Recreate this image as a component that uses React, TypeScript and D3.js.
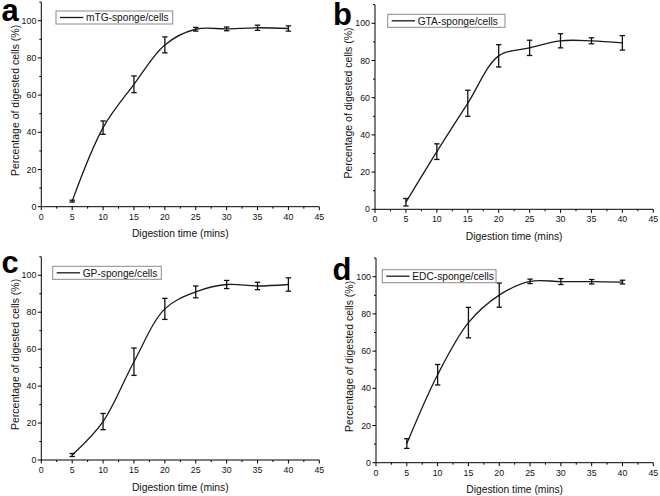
import React from "react";
import * as d3 from "d3";

const times = [5, 10, 15, 20, 25, 30, 35, 40];
const mtgMean = [3, 42.5, 65.8, 87, 95.4, 95.6, 96.2, 95.8];
const mtgErr = [0.5, 3.6, 4.5, 4.3, 1, 1, 1.4, 1.4];
const gtaMean = [3.8, 31, 57, 82.5, 86.8, 90.6, 90.6, 89.5];
const gtaErr = [2, 4.2, 7, 6, 4.1, 3.8, 1.6, 3.9];
const gpMean = [2.7, 20.8, 53.2, 81.8, 91, 95, 94.2, 95];
const gpErr = [0.8, 4.4, 7.4, 5.7, 3.2, 2.2, 2, 3.6];
const edcMean = [10.3, 47.3, 75.3, 90.1, 97.5, 97.4, 97.3, 97.1];
const edcErr = [2.6, 5.5, 8.2, 6.5, 1.2, 1.6, 1.2, 1];

const xTicks = [0, 5, 10, 15, 20, 25, 30, 35, 40, 45];
const yTicks = [0, 20, 40, 60, 80, 100];
const panelLetters = ["a", "b", "c", "d"];
const seriesNames = ["mTG-sponge/cells", "GTA-sponge/cells", "GP-sponge/cells", "EDC-sponge/cells"];
const xTitle = "Digestion time (mins)";
const yTitle = "Percentage of digested cells (%)";

const FONT = "'Liberation Sans', Arial, Helvetica, sans-serif";

type Layout = {
  ox: number; oy: number; xr: number; yt: number;
  lx: number; ly: number; legX: number; legY: number; legW: number;
};

const layouts: Layout[] = [
  { ox: 41.3, oy: 206.7, xr: 319.3, yt: 2.1, lx: 1.5, ly: 20.5, legX: 56, legY: 11, legW: 116.7 },
  { ox: 375, oy: 209.3, xr: 653.3, yt: 4.7, lx: 333, ly: 25, legX: 387.7, legY: 14.3, legW: 117.3 },
  { ox: 41.3, oy: 460, xr: 319.3, yt: 256.8, lx: 1.5, ly: 273, legX: 52.7, legY: 266.3, legW: 108.6 },
  { ox: 376, oy: 462.7, xr: 653.3, yt: 258.1, lx: 332.5, ly: 280, legX: 382.3, legY: 269.7, legW: 113.7 },
];

const means = [mtgMean, gtaMean, gpMean, edcMean];
const errs = [mtgErr, gtaErr, gpErr, edcErr];

function Panel({ idx }: { idx: number }) {
  const L = layouts[idx];
  const x = d3.scaleLinear().domain([0, 45]).range([L.ox, L.xr]);
  const y = d3.scaleLinear().domain([0, 110]).range([L.oy, L.yt]);
  const mean = means[idx];
  const err = errs[idx];
  const pts: [number, number][] = times.map((t, i) => [x(t), y(mean[i])]);
  const line = d3.line().curve(d3.curveCatmullRom.alpha(0.5))(pts) || "";
  const xMinor = d3.range(2.5, 45, 5);
  const yMinor = d3.range(10, 111, 20);
  const capW = 2.7;
  const xMid = (L.ox + L.xr) / 2;
  const yMid = (y(0) + y(110)) / 2 - 4;
  return (
    <g>
      <line x1={L.ox} x2={L.ox} y1={L.oy} y2={L.yt} stroke="#000" strokeWidth={1} />
      <line x1={L.ox} x2={L.xr} y1={L.oy} y2={L.oy} stroke="#000" strokeWidth={1} />
      {xTicks.map((t) => (
        <g key={"xt" + t}>
          <line x1={x(t)} x2={x(t)} y1={L.oy} y2={L.oy + 3.5} stroke="#000" />
          <text x={x(t)} y={L.oy + 12.8} fontSize={8.8} textAnchor="middle" fontFamily={FONT} fill="#111">{t}</text>
        </g>
      ))}
      {xMinor.map((t) => (
        <line key={"xm" + t} x1={x(t)} x2={x(t)} y1={L.oy} y2={L.oy + 2} stroke="#000" />
      ))}
      {yTicks.map((t) => (
        <g key={"yt" + t}>
          <line x1={L.ox} x2={L.ox - 3.5} y1={y(t)} y2={y(t)} stroke="#000" />
          <text x={L.ox - 5} y={y(t) + 3} fontSize={8.8} textAnchor="end" fontFamily={FONT} fill="#111">{t}</text>
        </g>
      ))}
      {yMinor.map((t) => (
        <line key={"ym" + t} x1={L.ox} x2={L.ox - 2} y1={y(t)} y2={y(t)} stroke="#000" />
      ))}
      <text x={xMid} y={L.oy + 30.5} fontSize={10.3} textAnchor="middle" fontFamily={FONT} fill="#111">{xTitle}</text>
      <text transform={`translate(${L.ox - 22.8},${yMid}) rotate(-90)`} fontSize={10.5} textAnchor="middle" fontFamily={FONT} fill="#111">{yTitle}</text>
      <path d={line} fill="none" stroke="#1a1a1a" strokeWidth={1.3} />
      {times.map((t, i) => {
        const cx = x(t);
        const top = y(mean[i] + err[i]);
        const bot = y(mean[i] - err[i]);
        return (
          <g key={"e" + t} stroke="#111" strokeWidth={1.3}>
            <line x1={cx} x2={cx} y1={top} y2={bot} />
            <line x1={cx - capW} x2={cx + capW} y1={top} y2={top} />
            <line x1={cx - capW} x2={cx + capW} y1={bot} y2={bot} />
          </g>
        );
      })}
      <rect x={L.legX} y={L.legY} width={L.legW} height={13} fill="#fff" stroke="#8a8a8a" strokeWidth={1} />
      <line x1={L.legX + 4} x2={L.legX + 27.3} y1={L.legY + 6.5} y2={L.legY + 6.5} stroke="#1a1a1a" strokeWidth={1.3} />
      <text x={L.legX + 30} y={L.legY + 10.2} fontSize={10.2} fontFamily={FONT} fill="#111">{seriesNames[idx]}</text>
      <text x={L.lx} y={L.ly} fontSize={31} fontWeight="bold" fontFamily={FONT} fill="#000">{panelLetters[idx]}</text>
    </g>
  );
}

export default function App() {
  return (
    <svg width={660} height={496} style={{ position: "absolute", left: 0, top: 0, background: "#fff" }}>
      <rect x={0} y={0} width={660} height={496} fill="#fff" />
      {[0, 1, 2, 3].map((i) => (
        <Panel key={i} idx={i} />
      ))}
    </svg>
  );
}
